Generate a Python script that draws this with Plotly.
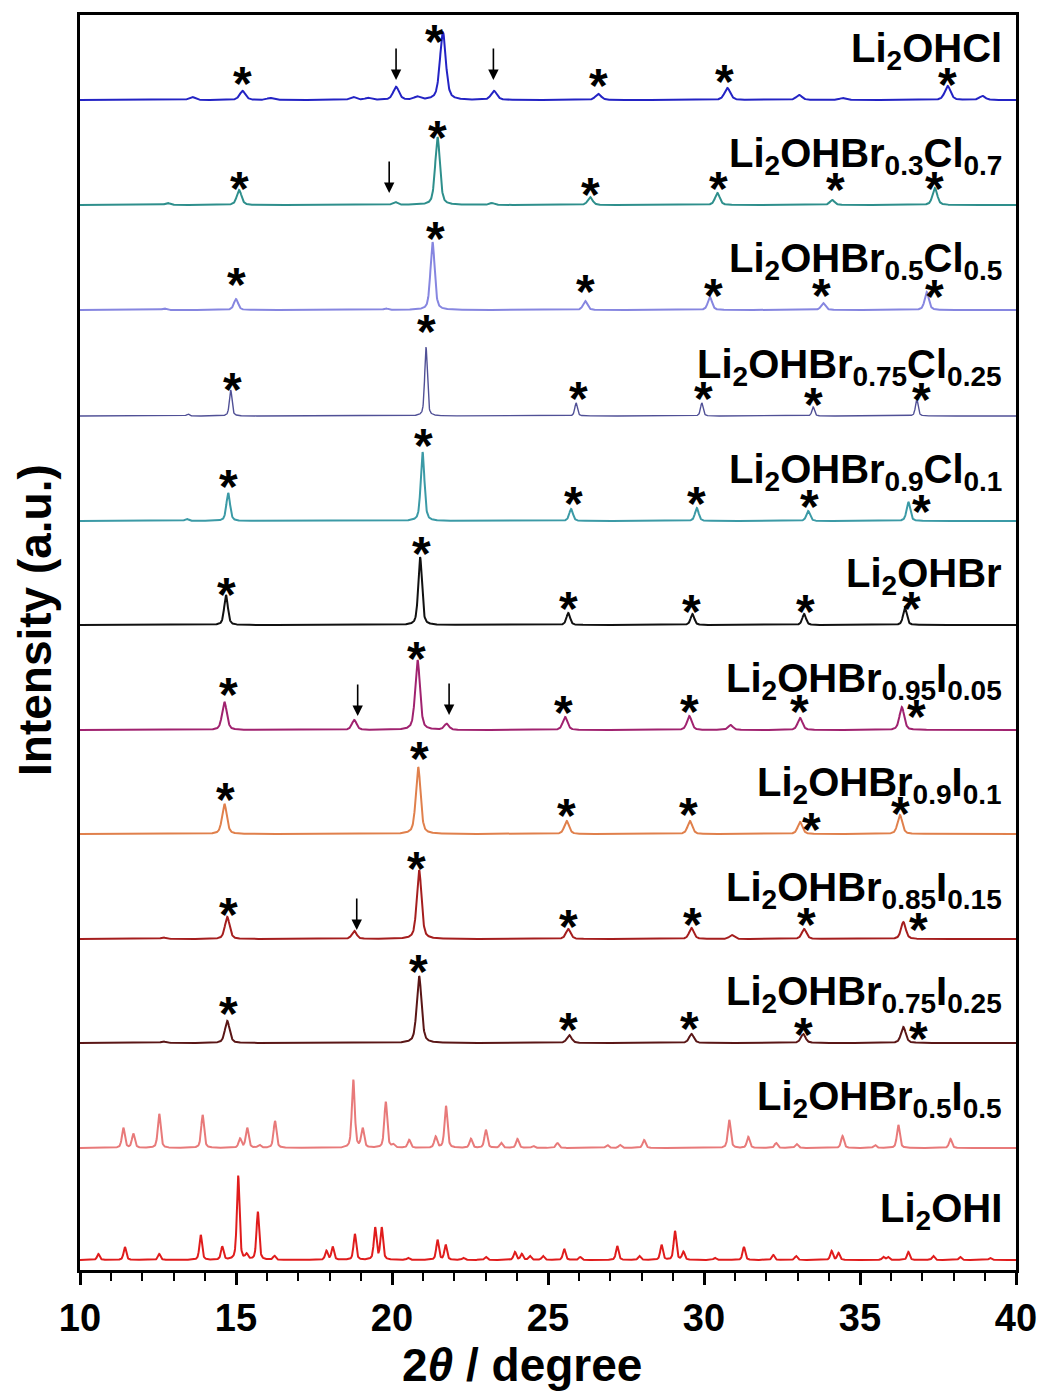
import numpy as np
import plotly.graph_objects as go

# ---------------- data ----------------
names = [
    "Li<sub>2</sub>OHCl",
    "Li<sub>2</sub>OHBr<sub>0.3</sub>Cl<sub>0.7</sub>",
    "Li<sub>2</sub>OHBr<sub>0.5</sub>Cl<sub>0.5</sub>",
    "Li<sub>2</sub>OHBr<sub>0.75</sub>Cl<sub>0.25</sub>",
    "Li<sub>2</sub>OHBr<sub>0.9</sub>Cl<sub>0.1</sub>",
    "Li<sub>2</sub>OHBr",
    "Li<sub>2</sub>OHBr<sub>0.95</sub>I<sub>0.05</sub>",
    "Li<sub>2</sub>OHBr<sub>0.9</sub>I<sub>0.1</sub>",
    "Li<sub>2</sub>OHBr<sub>0.85</sub>I<sub>0.15</sub>",
    "Li<sub>2</sub>OHBr<sub>0.75</sub>I<sub>0.25</sub>",
    "Li<sub>2</sub>OHBr<sub>0.5</sub>I<sub>0.5</sub>",
    "Li<sub>2</sub>OHI",
]

# vertical offsets of each pattern (a.u.)
offsets = [1160, 1055, 950, 844, 739, 635, 530, 426, 321, 217, 112, 0]

# peak positions (2theta, degree) and heights (a.u.) of each pattern
pk_Cl_pos = [13.59, 15.21, 16.09, 18.75, 19.23, 20.13, 20.8, 21.63, 23.27, 26.61, 30.75, 33.05, 34.44, 37.81, 38.92]
pk_Cl_h = [3, 9, 2, 3, 2, 13, 3, 68, 9, 6, 12, 5, 2, 14, 4]

pk_Br03_pos = [12.8, 15.1, 20.1, 21.46, 23.2, 26.35, 30.43, 34.11, 37.4]
pk_Br03_h = [2, 15, 3, 68, 2, 8, 12, 5, 17]

pk_Br05_pos = [12.7, 15.0, 19.8, 21.3, 26.19, 30.19, 33.82, 37.14]
pk_Br05_h = [1.5, 11, 1.5, 68, 9, 13, 7, 18]

pk_Br075_pos = [13.46, 14.83, 21.09, 25.9, 29.93, 33.5, 36.82]
pk_Br075_h = [2, 26, 69, 13, 13, 9, 17]

pk_Br09_pos = [13.42, 14.75, 20.98, 25.74, 29.77, 33.34, 36.55]
pk_Br09_h = [2, 28, 69, 12, 13, 10, 19]

pk_Br_pos = [14.68, 20.9, 25.65, 29.63, 33.21, 36.44]
pk_Br_h = [30, 68, 12, 11, 11, 17]

pk_I005_pos = [14.63, 18.79, 20.82, 21.75, 25.55, 29.53, 30.85, 33.08, 36.34]
pk_I005_h = [28, 10, 70, 6, 13, 14, 5, 12, 23]

pk_I01_pos = [14.63, 20.84, 25.6, 29.55, 33.08, 36.28]
pk_I01_h = [30, 67, 13, 13, 12, 19]

pk_I015_pos = [12.67, 14.72, 18.79, 20.87, 25.65, 29.6, 30.89, 33.21, 36.39]
pk_I015_h = [1.5, 22, 8, 69, 10, 11, 4, 10, 17]

pk_I025_pos = [12.67, 14.72, 20.87, 25.68, 29.6, 33.18, 36.39]
pk_I025_h = [1.5, 22, 67, 8, 9, 9, 16]

pk_I05_pos = [11.39, 11.71, 12.54, 13.93, 15.13, 15.36, 15.75, 16.25, 18.76, 19.06, 19.8, 20.04,
              20.55, 21.4, 21.73, 22.53, 23.01, 23.5, 24.02, 24.53, 25.3, 26.9, 27.31, 28.08,
              30.81, 31.42, 32.31, 32.97, 34.44, 35.48, 36.23, 37.9]
pk_I05_h = [20, 14, 34, 33, 9, 20, 3, 27, 68, 19, 46, 3,
            8, 11, 42, 9, 18, 5, 9, 2, 5, 3, 3, 8,
            28, 11, 5, 4, 12, 3, 23, 9]

pk_I_pos = [10.59, 11.44, 12.54, 13.87, 14.56, 15.07, 15.34, 15.7, 16.23, 17.9, 18.1, 18.81,
            19.46, 19.67, 20.52, 21.46, 21.72, 22.29, 23.01, 23.94, 24.16, 24.42, 24.84, 25.52,
            26.03, 27.22, 27.93, 28.64, 29.07, 29.34, 30.35, 31.28, 32.22, 32.95, 34.09, 34.31,
            35.75, 35.9, 36.55, 37.35, 38.21, 39.17]
pk_I_h = [6, 13, 6, 25, 13, 84, 5, 48, 4, 9, 13, 26,
          32, 32, 2, 20, 15, 2, 3, 8, 6, 4, 4, 11,
          3, 14, 4, 15, 29, 8, 2, 13, 5, 4, 9, 7,
          3, 3, 8, 4, 3, 2]

peak_pos = [pk_Cl_pos, pk_Br03_pos, pk_Br05_pos, pk_Br075_pos, pk_Br09_pos, pk_Br_pos,
            pk_I005_pos, pk_I01_pos, pk_I015_pos, pk_I025_pos, pk_I05_pos, pk_I_pos]
peak_h = [pk_Cl_h, pk_Br03_h, pk_Br05_h, pk_Br075_h, pk_Br09_h, pk_Br_h,
          pk_I005_h, pk_I01_h, pk_I015_h, pk_I025_h, pk_I05_h, pk_I_h]

# asterisk marks: 2theta and height above the pattern's baseline
star_x = [
    [15.21, 21.35, 26.61, 30.67, 37.81],
    [15.1, 21.46, 26.35, 30.48, 34.2, 37.4],
    [15.0, 21.38, 26.19, 30.3, 33.77, 37.4],
    [14.89, 21.11, 25.97, 29.98, 33.5, 36.98],
    [14.75, 21.0, 25.81, 29.77, 33.38, 36.98],
    [14.68, 20.95, 25.65, 29.6, 33.24, 36.65],
    [14.75, 20.79, 25.51, 29.55, 33.05, 36.82],
    [14.67, 20.87, 25.6, 29.5, 33.45, 36.3],
    [14.75, 20.79, 25.65, 29.63, 33.29, 36.87],
    [14.75, 20.84, 25.65, 29.55, 33.18, 36.87],
    [],
    [],
]
star_y = [
    [23, 65, 21, 25, 22],
    [23, 74, 17, 23, 22, 23],
    [32, 78, 25, 21, 21, 20],
    [33, 91, 24, 24, 18, 23],
    [41, 82, 24, 24, 21, 16],
    [37, 78, 23, 20, 20, 23],
    [42, 78, 24, 25, 25, 20],
    [41, 82, 25, 26, 11, 27],
    [31, 77, 19, 21, 21, 16],
    [36, 78, 20, 21, 15, 11],
    [],
    [],
]

# arrow marks: pattern index, 2theta, tip height above baseline
arrow_trace = [0, 0, 1, 6, 6, 8]
arrow_x = [20.13, 23.25, 19.91, 18.9, 21.83, 18.87]
arrow_tip = [20, 20, 12, 14, 15, 9]

colors = ["#2323c4", "#2e8f8c", "#8686e0", "#505096", "#3b9aa6", "#111111",
          "#a0226f", "#e0804c", "#a51e1e", "#5a1616", "#e87a7a", "#e01c1c"]
widths = [0.11, 0.09, 0.08, 0.05, 0.07, 0.07, 0.09, 0.09, 0.09, 0.09, 0.055, 0.05]
line_w = [2, 2, 2, 1.4, 2, 2, 2, 2, 2, 2, 2, 2]

x_min, x_max = 10, 40
x_tick_vals = [10, 15, 20, 25, 30, 35, 40]

# ---------------- build figure ----------------
x = np.arange(x_min, x_max + 0.005, 0.01)


def profile(pos, h, w):
    y = np.zeros_like(x)
    for c, a in zip(pos, h):
        lor = w ** 2 / ((x - c) ** 2 + w ** 2)
        gau = np.exp(-np.log(2) * ((x - c) / w) ** 2)
        y += a * (0.5 * lor + 0.5 * gau)
    return y


fig = go.Figure()
annotations = []
font_fam = "Liberation Sans, Arial, sans-serif"

for i in range(len(names)):
    y = profile(peak_pos[i], peak_h[i], widths[i]) + offsets[i]
    fig.add_trace(go.Scatter(x=x, y=y, mode="lines",
                             line=dict(color=colors[i], width=line_w[i]),
                             name=names[i], showlegend=False, hoverinfo="skip"))
    # label
    annotations.append(dict(x=39.62, y=offsets[i] + 22, xref="x", yref="y",
                            text="<b>" + names[i] + "</b>", showarrow=False,
                            xanchor="right", yanchor="bottom",
                            font=dict(family=font_fam, size=40, color="black")))
    # stars
    for sx, sy in zip(star_x[i], star_y[i]):
        annotations.append(dict(x=sx, y=offsets[i] + sy, xref="x", yref="y",
                                text="<b>*</b>", showarrow=False,
                                xanchor="center", yanchor="middle", yshift=-6,
                                font=dict(family=font_fam, size=48, color="black")))

for t, ax_, tip in zip(arrow_trace, arrow_x, arrow_tip):
    annotations.append(dict(x=ax_, y=offsets[t] + tip, xref="x", yref="y",
                            text="", showarrow=True, arrowhead=2, arrowsize=1.3,
                            arrowwidth=1.6, arrowcolor="black", ax=0, ay=-33))

# axis titles
annotations.append(dict(x=0.472, y=-0.0757, xref="paper", yref="paper",
                        text="<b>2<i>θ</i> / degree</b>", showarrow=False,
                        xanchor="center", yanchor="middle",
                        font=dict(family=font_fam, size=46, color="black")))
annotations.append(dict(x=-0.048, y=0.518, xref="paper", yref="paper",
                        text="<b>Intensity (a.u.)</b>", showarrow=False, textangle=-90,
                        xanchor="center", yanchor="middle",
                        font=dict(family=font_fam, size=46, color="black")))

fig.update_layout(
    width=1053, height=1397,
    margin=dict(l=80, r=37, t=15, b=127),
    plot_bgcolor="white", paper_bgcolor="white",
    annotations=annotations,
    xaxis=dict(range=[x_min, x_max], tickvals=x_tick_vals,
               ticks="outside", ticklen=12, tickwidth=2.5, tickcolor="black",
               minor=dict(dtick=1, ticks="outside", ticklen=8, tickwidth=2, tickcolor="black"),
               showline=True, linewidth=3, linecolor="black", mirror=True,
               showgrid=False, zeroline=False,
               tickfont=dict(family=font_fam, size=38, color="black", weight="bold")),
    yaxis=dict(range=[-10, 1245], showticklabels=False, ticks="",
               showline=True, linewidth=3, linecolor="black", mirror=True,
               showgrid=False, zeroline=False),
)

fig.write_html("out.html")
